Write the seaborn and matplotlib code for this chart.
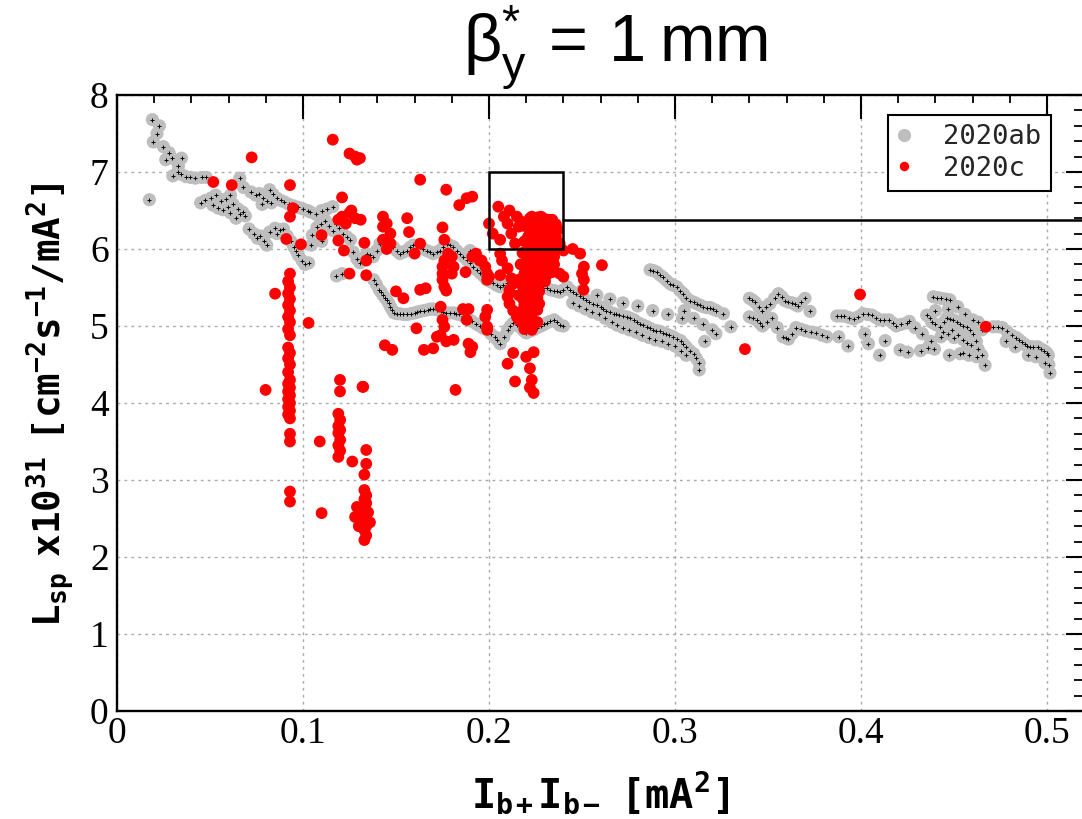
import matplotlib
matplotlib.use("Agg")
import matplotlib.pyplot as plt
import seaborn as sns
import pandas as pd
from matplotlib.patches import Rectangle
from matplotlib.lines import Line2D
from matplotlib.ticker import MultipleLocator, FuncFormatter

# ---------------- data ----------------
ab_trail = [(0.0174,6.64),(0.019,7.68),(0.0228,7.60),(0.0195,7.39),(0.0249,7.33),(0.0262,7.16),
            (0.0294,7.18),(0.0347,7.18),(0.0300,6.95),(0.0327,7.00),(0.0345,6.97),(0.0370,6.94),
            (0.0395,6.93),(0.0420,6.92),(0.0455,6.93),(0.0480,6.93),(0.0660,6.92),(0.0680,6.80),
            (0.0215,7.50),(0.0280,7.25),(0.0330,7.08)]
ab_left_low = [(0.0450,6.60),(0.0475,6.63),(0.0505,6.66),(0.0530,6.70),(0.0515,6.57),(0.0545,6.53),
               (0.0570,6.51),(0.0595,6.55),(0.0610,6.47),(0.0640,6.40),(0.0660,6.46),(0.0675,6.48),
               (0.0560,6.62),(0.0585,6.65),(0.0625,6.58),(0.0650,6.52),(0.0690,6.43),(0.0610,6.70)]
ab_upper = [(0.0720,6.74),(0.0745,6.70),(0.0765,6.72),(0.0785,6.66),(0.0805,6.62),(0.0820,6.77),
            (0.0840,6.71),(0.0860,6.66),(0.0880,6.63),(0.0900,6.61),(0.0925,6.58),(0.0950,6.56),
            (0.0975,6.54),(0.1000,6.52),(0.1025,6.50),(0.0780,6.58),(0.0830,6.60)]
ab_lower = [(0.0710,6.26),(0.0735,6.20),(0.0755,6.14),(0.0790,6.10),(0.0805,6.05),(0.0820,6.22),
            (0.0850,6.27),(0.0875,6.25),(0.0895,6.26),(0.0915,6.17),(0.0935,6.10),(0.0950,6.03),
            (0.0965,5.97),(0.0975,5.92),(0.0995,5.85),(0.1010,5.80),(0.1030,5.82),(0.0770,6.17),
            (0.0860,6.20)]
ab_mid = [(0.1050,6.18),(0.1075,6.28),(0.1095,6.33),(0.1120,6.37),(0.1140,6.30),(0.1160,6.24),
          (0.1175,6.33),(0.1195,6.27),(0.1215,6.20),(0.1235,6.16),(0.1255,6.12),(0.1270,5.96),
          (0.1290,5.87),(0.1180,5.65),(0.1210,5.68),(0.1045,6.05),(0.1100,6.10),(0.1070,6.45),
          (0.1100,6.50),(0.1130,6.52),(0.1040,6.48),(0.1160,6.55)]
ab_band_hi = [(0.1306,5.82),(0.1342,5.94),(0.1378,5.90),(0.1414,6.07),(0.1450,6.11),(0.1485,6.03),
              (0.1521,5.94),(0.1557,5.98),(0.1593,6.05),(0.1629,6.03),(0.1665,5.98),(0.1700,5.94),
              (0.1736,5.98),(0.1772,6.07),(0.1808,6.03),(0.1844,5.94),(0.1880,5.86),(0.1916,5.77),
              (0.1952,5.69),(0.1987,5.60),(0.2023,5.56),(0.2059,5.51),(0.2095,5.56),(0.1898,5.98),
              (0.1934,5.90),
              (0.1324,5.88),(0.1360,5.92),(0.1396,5.98),(0.1432,6.09),(0.1467,6.07),(0.1503,5.98),
              (0.1539,5.96),(0.1575,6.02),(0.1611,6.04),(0.1647,6.00),(0.1683,5.96),(0.1718,5.96),
              (0.1754,6.02),(0.1790,6.05),(0.1826,5.98),(0.1862,5.90),(0.1898,5.82),(0.1934,5.73),
              (0.1970,5.65),(0.2005,5.58),(0.2041,5.53),(0.2077,5.53)]
ab_band_lo = [(0.138,5.60),(0.141,5.47),(0.143,5.40),(0.145,5.34),(0.147,5.25),(0.149,5.17),
              (0.152,5.16),(0.156,5.15),(0.160,5.17),(0.163,5.19),(0.167,5.21),(0.170,5.22),
              (0.174,5.20),(0.177,5.17),(0.181,5.17),(0.184,5.15),(0.188,5.11),(0.191,5.06),
              (0.195,5.00),(0.199,4.95),(0.203,4.86),(0.206,4.77),(0.210,4.95),(0.213,5.04),
              (0.217,4.98),(0.220,4.91),(0.224,4.95),(0.228,5.00),(0.231,5.04),(0.235,5.08),
              (0.238,5.01),
              (0.1395,5.54),(0.1420,5.44),(0.1440,5.37),(0.1460,5.30),(0.1480,5.21),(0.1505,5.16),
              (0.1540,5.15),(0.1580,5.16),(0.1615,5.18),(0.1650,5.20),(0.1685,5.22),(0.1720,5.21),
              (0.1755,5.18),(0.1790,5.17),(0.1825,5.16),(0.1860,5.13),(0.1895,5.08),(0.1930,5.03),
              (0.1970,4.97),(0.2010,4.90),(0.2045,4.82),(0.2080,4.86),(0.2115,5.00),(0.2150,5.01),
              (0.2185,4.94),(0.2220,4.93),(0.2260,4.98),(0.2295,5.02),(0.2330,5.06),(0.2365,5.05),
              (0.2400,5.00)]
ab_descent = [(0.227,5.51),(0.231,5.49),(0.235,5.46),(0.238,5.44),(0.242,5.51),(0.245,5.44),
              (0.249,5.39),(0.252,5.34),(0.256,5.29),(0.260,5.25),(0.263,5.20),(0.267,5.16),
              (0.270,5.14),(0.274,5.12),(0.278,5.08),(0.281,5.03),(0.285,4.99),(0.288,4.95),
              (0.292,4.93),(0.295,4.90),(0.299,4.86),(0.303,4.81),(0.306,4.73),(0.310,4.64),
              (0.313,4.52),(0.313,4.43),(0.245,5.30),(0.252,5.22),(0.259,5.15),(0.266,5.05),
              (0.272,4.98),(0.279,4.92),(0.286,4.85),(0.293,4.80),(0.300,4.74),(0.306,4.62),
              (0.250,5.46),(0.258,5.40),(0.265,5.35),(0.272,5.30),(0.280,5.26),(0.288,5.20),
              (0.296,5.15),(0.304,5.10),
              (0.2290,5.50),(0.2330,5.47),(0.2365,5.45),(0.2400,5.47),(0.2435,5.47),(0.2470,5.41),
              (0.2505,5.36),(0.2540,5.31),(0.2580,5.27),(0.2615,5.22),(0.2650,5.18),(0.2685,5.15),
              (0.2720,5.13),(0.2760,5.10),(0.2795,5.05),(0.2830,5.01),(0.2865,4.97),(0.2900,4.94),
              (0.2935,4.91),(0.2970,4.88),(0.3010,4.83),(0.3045,4.77),(0.3080,4.68),(0.3115,4.58),
              (0.2485,5.26),(0.2555,5.18),(0.2625,5.10),(0.2690,5.01),(0.2755,4.95),(0.2825,4.88),
              (0.2895,4.82),(0.2965,4.77),(0.3030,4.68)]
ab_hump = [(0.2866,5.73),(0.2902,5.70),(0.2937,5.63),(0.2973,5.55),(0.3009,5.51),(0.3045,5.42),
           (0.3080,5.33),(0.3116,5.29),(0.3152,5.25),(0.3188,5.24),(0.3223,5.20),(0.3050,5.20),
           (0.3100,5.10),(0.3150,5.02),(0.3200,4.95),(0.3160,4.80),(0.3220,4.90),
           (0.2884,5.72),(0.2920,5.66),(0.2955,5.59),(0.2990,5.53),(0.3027,5.46),(0.3060,5.37),
           (0.3100,5.31),(0.3134,5.27),(0.3170,5.24),(0.3205,5.22)]
ab_right = [(0.326,5.16),(0.330,4.99),(0.340,5.36),(0.343,5.31),(0.347,5.20),(0.351,5.29),
            (0.3556,5.42),(0.359,5.33),(0.363,5.30),(0.366,5.26),(0.3699,5.36),(0.340,5.12),
            (0.344,5.08),(0.347,5.00),(0.352,5.10),(0.358,4.86),(0.361,4.83),(0.365,4.98),
            (0.3726,5.19),(0.370,4.94),(0.376,4.91),(0.3816,4.86),(0.387,5.13),(0.391,5.13),
            (0.396,5.09),(0.401,5.16),(0.406,5.14),(0.410,5.08),(0.415,5.08),(0.419,5.00),
            (0.388,4.86),(0.393,4.74),(0.402,4.90),(0.404,4.77),(0.410,4.62),(0.413,4.81),
            (0.3415,5.34),(0.3450,5.25),(0.3490,5.25),(0.3535,5.36),(0.3575,5.38),(0.3610,5.31),
            (0.3645,5.28),(0.3680,5.31),(0.3420,5.10),(0.3455,5.04),(0.3495,5.05),(0.3550,4.98),
            (0.3595,4.85),(0.3630,4.90),(0.3675,4.96),(0.3730,4.92),(0.3790,4.88),(0.3890,5.13),
            (0.3935,5.11),(0.3985,5.12),(0.4035,5.15),(0.4080,5.11),(0.4125,5.08),(0.4170,5.04),
            (0.4215,5.02),(0.4245,5.04)]
ab_cluster = [(0.421,4.69),(0.425,4.66),(0.432,4.68),(0.4389,5.38),(0.4430,5.36),(0.4478,5.34),
              (0.4353,5.14),(0.438,5.05),(0.4425,4.99),(0.446,5.10),(0.4497,5.08),(0.453,5.02),
              (0.4568,4.99),(0.4604,4.90),(0.4533,4.64),(0.4622,4.60),(0.4667,4.49),(0.429,4.98),
              (0.433,4.90),(0.440,5.20),(0.447,5.22),(0.452,5.25),(0.456,5.15),(0.460,5.08),
              (0.463,5.05),(0.443,4.86),(0.450,4.85),(0.457,4.78),(0.462,4.80),(0.436,4.72),
              (0.426,5.06),(0.449,4.95),(0.465,4.95),
              (0.4410,5.37),(0.4455,5.35),(0.4370,5.10),(0.4400,5.02),(0.4445,5.05),(0.4480,5.09),
              (0.4515,5.05),(0.4550,5.00),(0.4585,4.95),(0.4440,4.92),(0.4470,4.90),(0.4520,4.88),
              (0.4550,4.82),(0.4590,4.75),(0.4630,4.70),(0.4650,4.62),(0.4580,4.62),(0.4550,4.65),
              (0.4375,4.80),(0.4395,4.70),(0.4475,4.62)]
ab_tail = [(0.4711,4.99),(0.4760,4.98),(0.4810,4.88),(0.4850,4.82),(0.4880,4.76),(0.4908,4.73),
           (0.4950,4.73),(0.4985,4.68),(0.5007,4.62),(0.5016,4.39),(0.4990,4.52),(0.4780,4.80),
           (0.4830,4.73),(0.4900,4.62),(0.4940,4.60),
           (0.4735,4.99),(0.4785,4.93),(0.4835,4.85),(0.4865,4.79),(0.4895,4.74),(0.4925,4.73),
           (0.4970,4.70),(0.5000,4.65),(0.5010,4.50)]

c_col093 = [(0.093,5.68),(0.092,5.58),(0.093,5.50),(0.092,5.42),(0.093,5.35),(0.092,5.27),
            (0.093,5.20),(0.092,5.12),(0.093,5.05),(0.092,4.96),(0.093,4.88),(0.092,4.72),
            (0.093,4.65),(0.092,4.58),(0.093,4.50),(0.092,4.40),(0.093,4.30),(0.092,4.25),
            (0.093,4.20),(0.092,4.15),(0.093,4.10),(0.092,4.05),(0.093,4.00),(0.092,3.95),
            (0.093,3.90),(0.092,3.85),(0.093,3.80),(0.093,3.60),(0.093,3.50),(0.093,2.85),
            (0.093,2.72)]
c_scatter_left = [(0.0799,4.17),(0.085,5.42),(0.103,5.04),(0.093,6.83),(0.0946,6.53),(0.093,6.42),
                  (0.091,6.13),(0.0989,6.06),(0.0518,6.87),(0.0617,6.83),(0.0724,7.19),(0.116,7.42),
                  (0.125,7.24),(0.128,7.20),(0.129,7.16),(0.121,6.67),(0.110,6.18),(0.119,6.38),
                  (0.121,6.42),(0.123,6.33),(0.125,6.47),(0.126,6.50),(0.128,6.40),(0.119,6.11),
                  (0.122,5.98),(0.125,5.68),(0.1199,4.30),(0.1199,4.15)]
c_col120 = [(0.119,3.86),(0.120,3.78),(0.119,3.70),(0.120,3.65),(0.119,3.61),(0.120,3.52),
            (0.119,3.45),(0.120,3.38),(0.119,3.30),(0.109,3.50),(0.132,4.21),(0.1265,3.24),
            (0.134,3.39),(0.134,3.21),(0.133,3.07)]
c_col133 = [(0.133,2.87),(0.134,2.80),(0.133,2.75),(0.134,2.70),(0.133,2.65),(0.134,2.60),
            (0.133,2.55),(0.134,2.50),(0.133,2.45),(0.134,2.40),(0.133,2.35),(0.134,2.28),
            (0.133,2.22),(0.129,2.65),(0.128,2.52),(0.110,2.57),(0.131,2.62),(0.135,2.58),
            (0.136,2.45),(0.130,2.40)]
c_main = [(0.1306,7.18),(0.163,6.90),(0.177,6.77),(0.184,6.57),(0.188,6.66),(0.191,6.68),
          (0.143,6.42),(0.145,6.33),(0.143,6.29),(0.147,6.20),(0.143,6.12),(0.147,6.07),(0.145,6.00),
          (0.156,6.40),(0.157,6.22),(0.131,6.38),(0.133,6.08),(0.134,5.85),(0.134,5.66),
          (0.163,6.07),(0.160,5.94),(0.175,6.28),(0.176,6.12),
          (0.178,5.94),(0.176,5.85),(0.175,5.77),(0.175,5.68),(0.175,5.60),(0.176,5.51),(0.177,5.46),
          (0.180,5.90),(0.181,5.77),(0.180,5.68),
          (0.1874,5.70),(0.196,5.85),(0.198,5.77),(0.199,5.68),(0.199,5.60),(0.200,5.64),(0.193,5.94),
          (0.195,5.85),(0.191,5.90),
          (0.163,5.47),(0.166,5.49),(0.150,5.45),(0.154,5.36),
          (0.174,5.25),(0.175,5.08),(0.176,4.99),(0.174,4.88),(0.161,4.97),(0.172,4.86),(0.177,4.80),
          (0.181,4.82),(0.186,5.22),(0.189,5.22),(0.188,5.08),(0.189,4.77),(0.191,4.73),(0.190,4.66),
          (0.199,5.21),(0.198,5.12),(0.199,4.99),(0.199,4.95),
          (0.144,4.75),(0.148,4.69),(0.165,4.69),(0.170,4.71),(0.182,4.17),(0.1324,4.21),
          (0.206,5.94),(0.207,5.85),(0.206,5.66),(0.210,5.75),(0.212,5.62),(0.213,5.55),(0.211,5.47),
          (0.210,5.38),(0.211,5.29),(0.213,5.20),(0.215,5.12),(0.216,5.08)]
c_box = [(0.205,6.55),(0.211,6.50),(0.208,6.42),(0.210,6.33),(0.212,6.20),(0.215,6.42),(0.216,6.29),
         (0.214,6.07),(0.200,6.33),(0.202,6.20),(0.206,6.12),(0.218,6.35)]
c_dense = [(0.222,6.40),(0.226,6.41),(0.230,6.39),(0.234,6.38),
           (0.221,6.32),(0.225,6.31),(0.229,6.33),(0.233,6.30),(0.236,6.32),
           (0.222,6.24),(0.226,6.23),(0.230,6.25),(0.234,6.22),
           (0.221,6.16),(0.225,6.15),(0.229,6.17),(0.233,6.14),(0.236,6.16),
           (0.222,6.08),(0.226,6.07),(0.230,6.09),(0.234,6.06),
           (0.221,6.00),(0.225,5.99),(0.229,6.01),(0.233,5.98),
           (0.220,5.92),(0.224,5.91),(0.228,5.93),(0.232,5.90),
           (0.221,5.84),(0.225,5.83),(0.229,5.85),(0.233,5.82),
           (0.220,5.76),(0.224,5.75),(0.228,5.77),(0.232,5.74),
           (0.219,5.68),(0.223,5.67),(0.227,5.69),(0.231,5.66),
           (0.218,5.60),(0.222,5.59),(0.226,5.61),(0.230,5.58),
           (0.218,5.52),(0.222,5.51),(0.226,5.53),
           (0.219,5.44),(0.223,5.43),(0.227,5.45),
           (0.218,5.36),(0.222,5.35),(0.226,5.37),
           (0.219,5.28),(0.223,5.27),(0.227,5.29),
           (0.218,5.20),(0.222,5.19),(0.226,5.21),
           (0.219,5.12),(0.223,5.11),
           (0.218,5.04),(0.222,5.03),(0.226,5.05),
           (0.219,4.96),(0.223,4.95),
           (0.216,5.40),(0.216,5.60),(0.217,5.80),(0.235,5.90),(0.236,6.00),(0.235,5.80),
           (0.234,5.70),(0.237,6.25),(0.219,6.30),(0.219,6.10),(0.218,5.95)]
c_edge = [(0.223,6.42),(0.228,6.42),(0.232,6.38),(0.234,6.20),(0.238,6.07),(0.240,5.98),(0.245,6.00),
          (0.249,5.94),(0.251,5.77),(0.250,5.68),(0.251,5.60),(0.238,5.68),(0.240,5.64),(0.230,5.58),
          (0.2607,5.79),(0.2508,5.47),(0.213,4.65),(0.210,4.51),(0.214,4.28),(0.220,4.60),(0.224,4.66),
          (0.222,4.45),(0.223,4.30),(0.224,4.13),(0.222,4.20),
          (0.3995,5.41),(0.3376,4.70),(0.4671,4.99)]

ab_groups = [ab_trail, ab_left_low, ab_upper, ab_lower, ab_mid, ab_band_hi, ab_band_lo,
             ab_descent, ab_hump, ab_right, ab_cluster, ab_tail]
c_groups = [c_col093, c_scatter_left, c_col120, c_col133, c_main, c_box, c_dense, c_edge]

series_names = ["2020ab", "2020c"]
x_ticks = [0, 0.1, 0.2, 0.3, 0.4, 0.5]
y_ticks = [0, 1, 2, 3, 4, 5, 6, 7, 8]
zoom_box = (0.2, 6.0, 0.04, 1.0)      # x0, y0, width, height
zoom_line_y = 6.38

ab = pd.DataFrame([p for g in ab_groups for p in g], columns=["x", "y"])
cc = pd.DataFrame([p for g in c_groups for p in g], columns=["x", "y"])

# ---------------- figure ----------------
sns.set_theme(style="white")
plt.rcParams["mathtext.fontset"] = "custom"
plt.rcParams["mathtext.rm"] = "DejaVu Sans Mono:bold"
plt.rcParams["mathtext.it"] = "DejaVu Sans Mono:bold"
plt.rcParams["mathtext.bf"] = "DejaVu Sans Mono:bold"
plt.rcParams["mathtext.sf"] = "Liberation Sans"

W, H = 1082, 819
fig = plt.figure(figsize=(W / 100, H / 100), dpi=100)
L, R, T, B = 117, 1084, 95, 711
ax = fig.add_axes([L / W, 1 - B / H, (R - L) / W, (B - T) / H])

GRAY = "#bebebe"
RED = "#ff0000"

sns.scatterplot(data=ab, x="x", y="y", ax=ax, color=GRAY, s=90, edgecolor="none",
                linewidth=0, zorder=2, legend=False)
sns.scatterplot(data=ab, x="x", y="y", ax=ax, color="black", marker="+", s=10,
                linewidth=0.7, zorder=2.5, legend=False)
sns.scatterplot(data=cc, x="x", y="y", ax=ax, color=RED, s=72, edgecolor="none",
                linewidth=0, zorder=3, legend=False)

ax.set_xlim(0, (R - L) / 1860)
ax.set_ylim(0, 8)

ax.xaxis.set_major_locator(MultipleLocator(0.1))
ax.xaxis.set_minor_locator(MultipleLocator(0.02))
ax.yaxis.set_major_locator(MultipleLocator(1))
ax.yaxis.set_minor_locator(MultipleLocator(0.2))
ax.set_xticks(x_ticks)
ax.set_yticks(y_ticks)
ax.xaxis.set_major_formatter(FuncFormatter(lambda v, p: "0" if abs(v) < 1e-9 else f"{v:.1f}"))
ax.yaxis.set_major_formatter(FuncFormatter(lambda v, p: f"{v:.0f}"))

ax.tick_params(which="both", direction="in", top=True, right=True, color="black")
ax.tick_params(axis="x", which="major", length=17, width=1.5, pad=4)
ax.tick_params(axis="x", which="minor", length=6, width=1.3)
ax.tick_params(axis="y", which="major", length=13, width=1.5, pad=6)
ax.tick_params(axis="y", which="minor", length=7, width=1.3)
for lab in ax.get_xticklabels() + ax.get_yticklabels():
    lab.set_fontfamily("Liberation Serif")
    lab.set_fontsize(27)
    lab.set_color("black")

for sp in ax.spines.values():
    sp.set_visible(True)
    sp.set_color("black")
    sp.set_linewidth(1.7)

ax.grid(True, which="major", color="#aaaaaa", linestyle=(0, (2, 3)), linewidth=1.0)
ax.set_axisbelow(True)
ax.set_xlabel("")
ax.set_ylabel("")

# zoom box and connector line
bx, by, bw, bh = zoom_box
ax.add_patch(Rectangle((bx, by), bw, bh, fill=False, edgecolor="black", linewidth=1.8, zorder=5))
ax.plot([bx + bw, 0.53], [zoom_line_y, zoom_line_y], color="black", linewidth=1.8,
        clip_on=False, zorder=5)

# legend
handles = [Line2D([], [], linestyle="none", marker="o", markersize=9.5, color=GRAY, markeredgewidth=0),
           Line2D([], [], linestyle="none", marker="o", markersize=6.8, color=RED, markeredgewidth=0)]
leg = ax.legend(handles, series_names, loc="upper right", bbox_to_anchor=(0.966, 0.9675),
                borderaxespad=0, frameon=True, fancybox=False, framealpha=1,
                prop={"family": "DejaVu Sans Mono", "size": 19.5},
                handlelength=0.5, handletextpad=1.2, borderpad=0.35, labelspacing=0.2)
leg.get_frame().set_edgecolor("black")
leg.get_frame().set_linewidth(1.5)
leg.set_zorder(6)

# texts
fig.text(615 / W, 1 - 48 / H, r"$\mathsf{β_{y}^{*}\ =\ 1\ mm}$", ha="center", va="center",
         fontsize=48, color="black")
fig.text(600 / W, 1 - 793 / H, r"$\mathrm{I_{b+}I_{b-}\ \ [mA^{2}]}$", ha="center", va="center",
         fontsize=29, color="black")
fig.text(50 / W, 1 - 405 / H, r"$\mathrm{L_{sp}\ \ x10^{31}\ \ [cm^{-2}s^{-1}/mA^{2}]}$",
         rotation=90, ha="center", va="center", fontsize=27, color="black")

fig.savefig("out.png", dpi=100)
